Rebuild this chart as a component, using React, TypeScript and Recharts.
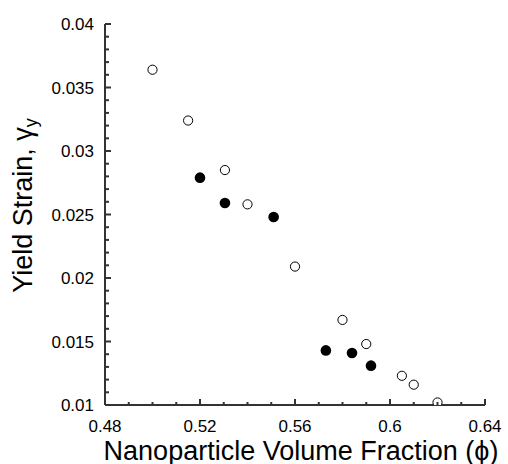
import React from "react";
import { ScatterChart, Scatter, XAxis, YAxis } from "recharts";

// open circles
const openX = [0.5, 0.515, 0.5305, 0.54, 0.56, 0.58, 0.59, 0.605, 0.61, 0.62];
const openY = [0.0364, 0.0324, 0.0285, 0.0258, 0.0209, 0.0167, 0.0148, 0.0123, 0.0116, 0.0102];

// filled circles
const filledX = [0.52, 0.5305, 0.551, 0.573, 0.584, 0.592];
const filledY = [0.0279, 0.0259, 0.0248, 0.0143, 0.0141, 0.0131];

const xMajor = [0.48, 0.52, 0.56, 0.6, 0.64];
const xMinor = [0.49, 0.5, 0.51, 0.53, 0.54, 0.55, 0.57, 0.58, 0.59, 0.61, 0.62, 0.63];
const yMajor = [0.01, 0.015, 0.02, 0.025, 0.03, 0.035, 0.04];
const yMinor = [
  0.011, 0.012, 0.013, 0.014, 0.016, 0.017, 0.018, 0.019, 0.021, 0.022, 0.023, 0.024,
  0.026, 0.027, 0.028, 0.029, 0.031, 0.032, 0.033, 0.034, 0.036, 0.037, 0.038, 0.039,
];

const FONT = "'Liberation Sans', Arial, Helvetica, sans-serif";
const AXIS = "#333";
const W = 2;
// default tickSize (6) + tickMargin (2): distance from axis line to the tick's x/y
const OFF = 8;

const openData = openX.map((x, i) => ({ x, y: openY[i] }));
const filledData = filledX.map((x, i) => ({ x, y: filledY[i] }));
const xTicks = [...xMajor, ...xMinor].sort((a, b) => a - b);
const yTicks = [...yMajor, ...yMinor].sort((a, b) => a - b);

const isMajor = (v: number, majors: number[]) => majors.some((m) => Math.abs(m - v) < 1e-9);

function BottomTick({ x, y, payload }: any) {
  const major = isMajor(payload.value, xMajor);
  const ay = y - OFF;
  return (
    <g>
      <path d={`M${x},${ay}V${ay - (major ? 6 : 3)}`} stroke={AXIS} strokeWidth={W} fill="none" />
      {major && (
        <text x={x} y={ay + 27} textAnchor="middle" fontSize={17} fontFamily={FONT} fill="#000">
          {String(payload.value)}
        </text>
      )}
    </g>
  );
}

function TopTick({ x, y, payload }: any) {
  const major = isMajor(payload.value, xMajor);
  const ay = y + OFF;
  return <path d={`M${x},${ay}V${ay + (major ? 6 : 3)}`} stroke={AXIS} strokeWidth={W} fill="none" />;
}

function LeftTick({ x, y, payload }: any) {
  const major = isMajor(payload.value, yMajor);
  const ax = x + OFF;
  return (
    <g>
      <path d={`M${ax},${y}H${ax + (major ? 6 : 4)}`} stroke={AXIS} strokeWidth={W} fill="none" />
      {major && (
        <text x={ax - 11} y={y + 6} textAnchor="end" fontSize={17} fontFamily={FONT} fill="#000">
          {String(payload.value)}
        </text>
      )}
    </g>
  );
}

function RightTick({ x, y, payload }: any) {
  const major = isMajor(payload.value, yMajor);
  const ax = x - OFF;
  return <path d={`M${ax},${y}H${ax - (major ? 6 : 4)}`} stroke={AXIS} strokeWidth={W} fill="none" />;
}

export default function App() {
  return (
    <div style={{ position: "absolute", left: 0, top: 0, background: "#fff" }}>
      <ScatterChart width={508} height={464} margin={{ top: 24, right: 23, bottom: 0, left: 0 }}>
        <XAxis
          xAxisId="x"
          dataKey="x"
          type="number"
          domain={[0.48, 0.64]}
          allowDataOverflow
          ticks={xTicks}
          interval={0}
          tickLine={false}
          axisLine={{ stroke: AXIS, strokeWidth: W }}
          tick={<BottomTick />}
          height={59}
          label={{
            content: (p: any) => (
              <text
                x={p.viewBox.x + p.viewBox.width / 2 + 6}
                y={p.viewBox.y + 55}
                textAnchor="middle"
                fontSize={27}
                fontFamily={FONT}
                fill="#000"
              >
                Nanoparticle Volume Fraction (ϕ)
              </text>
            ),
          }}
        />
        <XAxis
          xAxisId="top"
          orientation="top"
          type="number"
          domain={[0.48, 0.64]}
          allowDataOverflow
          ticks={xTicks}
          interval={0}
          tickLine={false}
          axisLine={{ stroke: AXIS, strokeWidth: W }}
          tick={<TopTick />}
          height={0}
        />
        <YAxis
          yAxisId="y"
          dataKey="y"
          type="number"
          domain={[0.01, 0.04]}
          allowDataOverflow
          ticks={yTicks}
          interval={0}
          tickLine={false}
          axisLine={{ stroke: AXIS, strokeWidth: W }}
          tick={<LeftTick />}
          width={105}
          label={{
            content: (p: any) => (
              <text
                transform={`translate(${p.viewBox.x + 32},${p.viewBox.y + p.viewBox.height / 2 - 9}) rotate(-90)`}
                textAnchor="middle"
                fontSize={27}
                fontFamily={FONT}
                fill="#000"
              >
                Yield Strain, γ
                <tspan fontSize={18} dy={5}>
                  y
                </tspan>
              </text>
            ),
          }}
        />
        <YAxis
          yAxisId="right"
          orientation="right"
          type="number"
          domain={[0.01, 0.04]}
          allowDataOverflow
          ticks={yTicks}
          interval={0}
          tickLine={false}
          axisLine={{ stroke: AXIS, strokeWidth: W }}
          tick={<RightTick />}
          width={0}
        />
        <Scatter
          xAxisId="x"
          yAxisId="y"
          data={openData}
          isAnimationActive={false}
          shape={(p: any) => <circle cx={p.cx} cy={p.cy} r={4.6} fill="#fff" stroke="#000" strokeWidth={1} />}
        />
        <Scatter
          xAxisId="x"
          yAxisId="y"
          data={filledData}
          isAnimationActive={false}
          shape={(p: any) => <circle cx={p.cx} cy={p.cy} r={5.3} fill="#000" />}
        />
      </ScatterChart>
    </div>
  );
}
